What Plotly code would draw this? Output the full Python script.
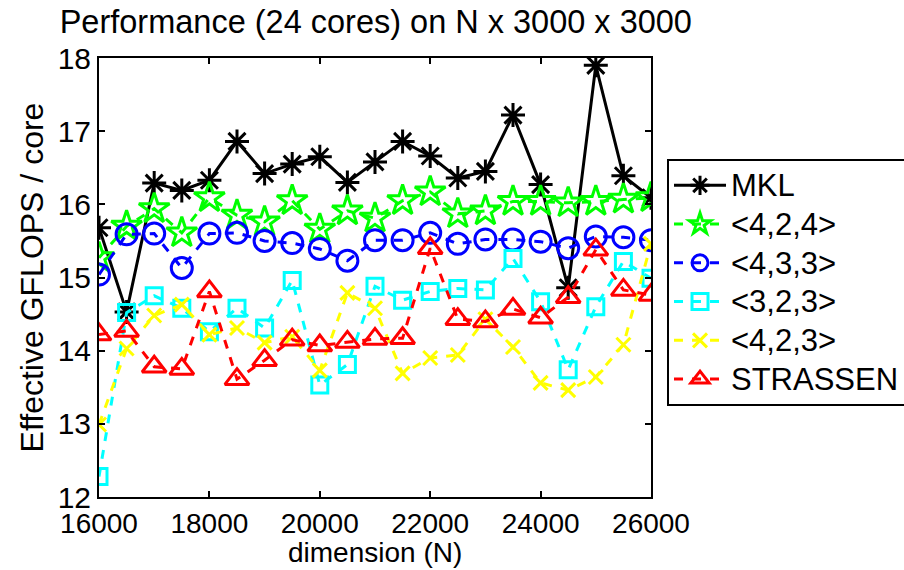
import plotly.graph_objects as go

dims = [16000 + 500 * i for i in range(21)]
xtick_vals = [16000, 18000, 20000, 22000, 24000, 26000]
xtick_text = ["16000", "18000", "20000", "22000", "24000", "26000"]

mkl = [15.68, 14.53, 16.29, 16.19, 16.33, 16.86, 16.42, 16.55, 16.65, 16.30, 16.58,
       16.86, 16.66, 16.36, 16.45, 17.22, 16.27, 14.86, 17.90, 16.39, 16.09]
f424 = [15.27, 15.70, 15.94, 15.61, 16.09, 15.85, 15.76, 16.05, 15.66, 15.91, 15.81,
        16.05, 16.17, 15.87, 15.91, 16.04, 16.04, 16.02, 16.04, 16.07, 16.09]
f433 = [15.04, 15.59, 15.60, 15.13, 15.60, 15.61, 15.50, 15.47, 15.39, 15.23, 15.51,
        15.51, 15.61, 15.46, 15.52, 15.52, 15.49, 15.40, 15.56, 15.55, 15.51]
f323 = [12.28, 14.52, 14.75, 14.58, 14.26, 14.58, 14.31, 14.96, 13.53, 13.81, 14.88,
        14.69, 14.81, 14.85, 14.83, 15.26, 14.67, 13.74, 14.60, 15.22, 14.99]
f423 = [12.99, 14.03, 14.48, 14.63, 14.22, 14.31, 14.11, 14.19, 13.73, 14.79, 14.58,
        13.69, 13.90, 13.94, 14.43, 14.05, 13.56, 13.46, 13.64, 14.08, 15.46]
strassen = [14.22, 14.27, 13.78, 13.75, 14.81, 13.61, 13.87, 14.15, 14.07, 14.12, 14.16,
            14.17, 15.40, 14.43, 14.40, 14.57, 14.45, 14.73, 15.38, 14.83, 14.76]

series = [
    ("MKL", mkl, "#000000", "solid", "asterisk-open", 20),
    ("&lt;4,2,4&gt;", f424, "#00FF00", "dash", "star-open", 23),
    ("&lt;4,3,3&gt;", f433, "#0000FF", "dash", "circle-open", 21),
    ("&lt;3,2,3&gt;", f323, "#00FFFF", "dash", "square-open", 16),
    ("&lt;4,2,3&gt;", f423, "#FFFF00", "dash", "x-thin-open", 14),
    ("STRASSEN", strassen, "#FF0000", "dash", "triangle-up-open", 21),
]

fig = go.Figure()
for name, vals, color, dash, sym, size in series:
    fig.add_trace(go.Scatter(
        x=dims, y=vals, name='<span style="font-size:31px">' + name + '</span>',
        mode="lines+markers",
        line=dict(color=color, width=3, dash=dash),
        marker=dict(symbol=sym, size=size, color=color, line=dict(color=color, width=3)),
    ))

font = "Liberation Sans, Arial, Helvetica, sans-serif"
fig.update_layout(
    width=904, height=570,
    margin=dict(l=99, r=253, t=58, b=73, autoexpand=False),
    paper_bgcolor="white", plot_bgcolor="white",
    font=dict(family=font, size=30, color="black"),
    title=dict(text="Performance (24 cores) on N x 3000 x 3000", x=0.066, xanchor="left",
               y=0.962, yanchor="middle", font=dict(size=32.5)),
    showlegend=True,
    legend=dict(x=1.029, y=0.77, xanchor="left", yanchor="top",
                bordercolor="black", borderwidth=2, bgcolor="white",
                font=dict(size=27.5), itemwidth=52),
    annotations=[dict(text="dimension (N)", xref="paper", yref="paper", x=0.5, y=-0.126,
                      xanchor="center", yanchor="middle", showarrow=False,
                      font=dict(size=28))],
)
fig.update_xaxes(range=[16000, 26000], tickvals=xtick_vals, ticktext=xtick_text,
                 ticks="inside", ticklen=6, tickwidth=1.5, tickcolor="black",
                 showline=True, linecolor="black", linewidth=2, mirror="ticks",
                 showgrid=False, zeroline=False, automargin=False,
                 tickfont=dict(size=28))
fig.update_yaxes(range=[12, 18], dtick=1,
                 ticks="inside", ticklen=6, tickwidth=1.5, tickcolor="black",
                 showline=True, linecolor="black", linewidth=2, mirror="ticks",
                 showgrid=False, zeroline=False, automargin=False,
                 title=dict(text="Effective GFLOPS / core", standoff=4, font=dict(size=32)),
                 tickfont=dict(size=30))

fig.write_html("out.html")
